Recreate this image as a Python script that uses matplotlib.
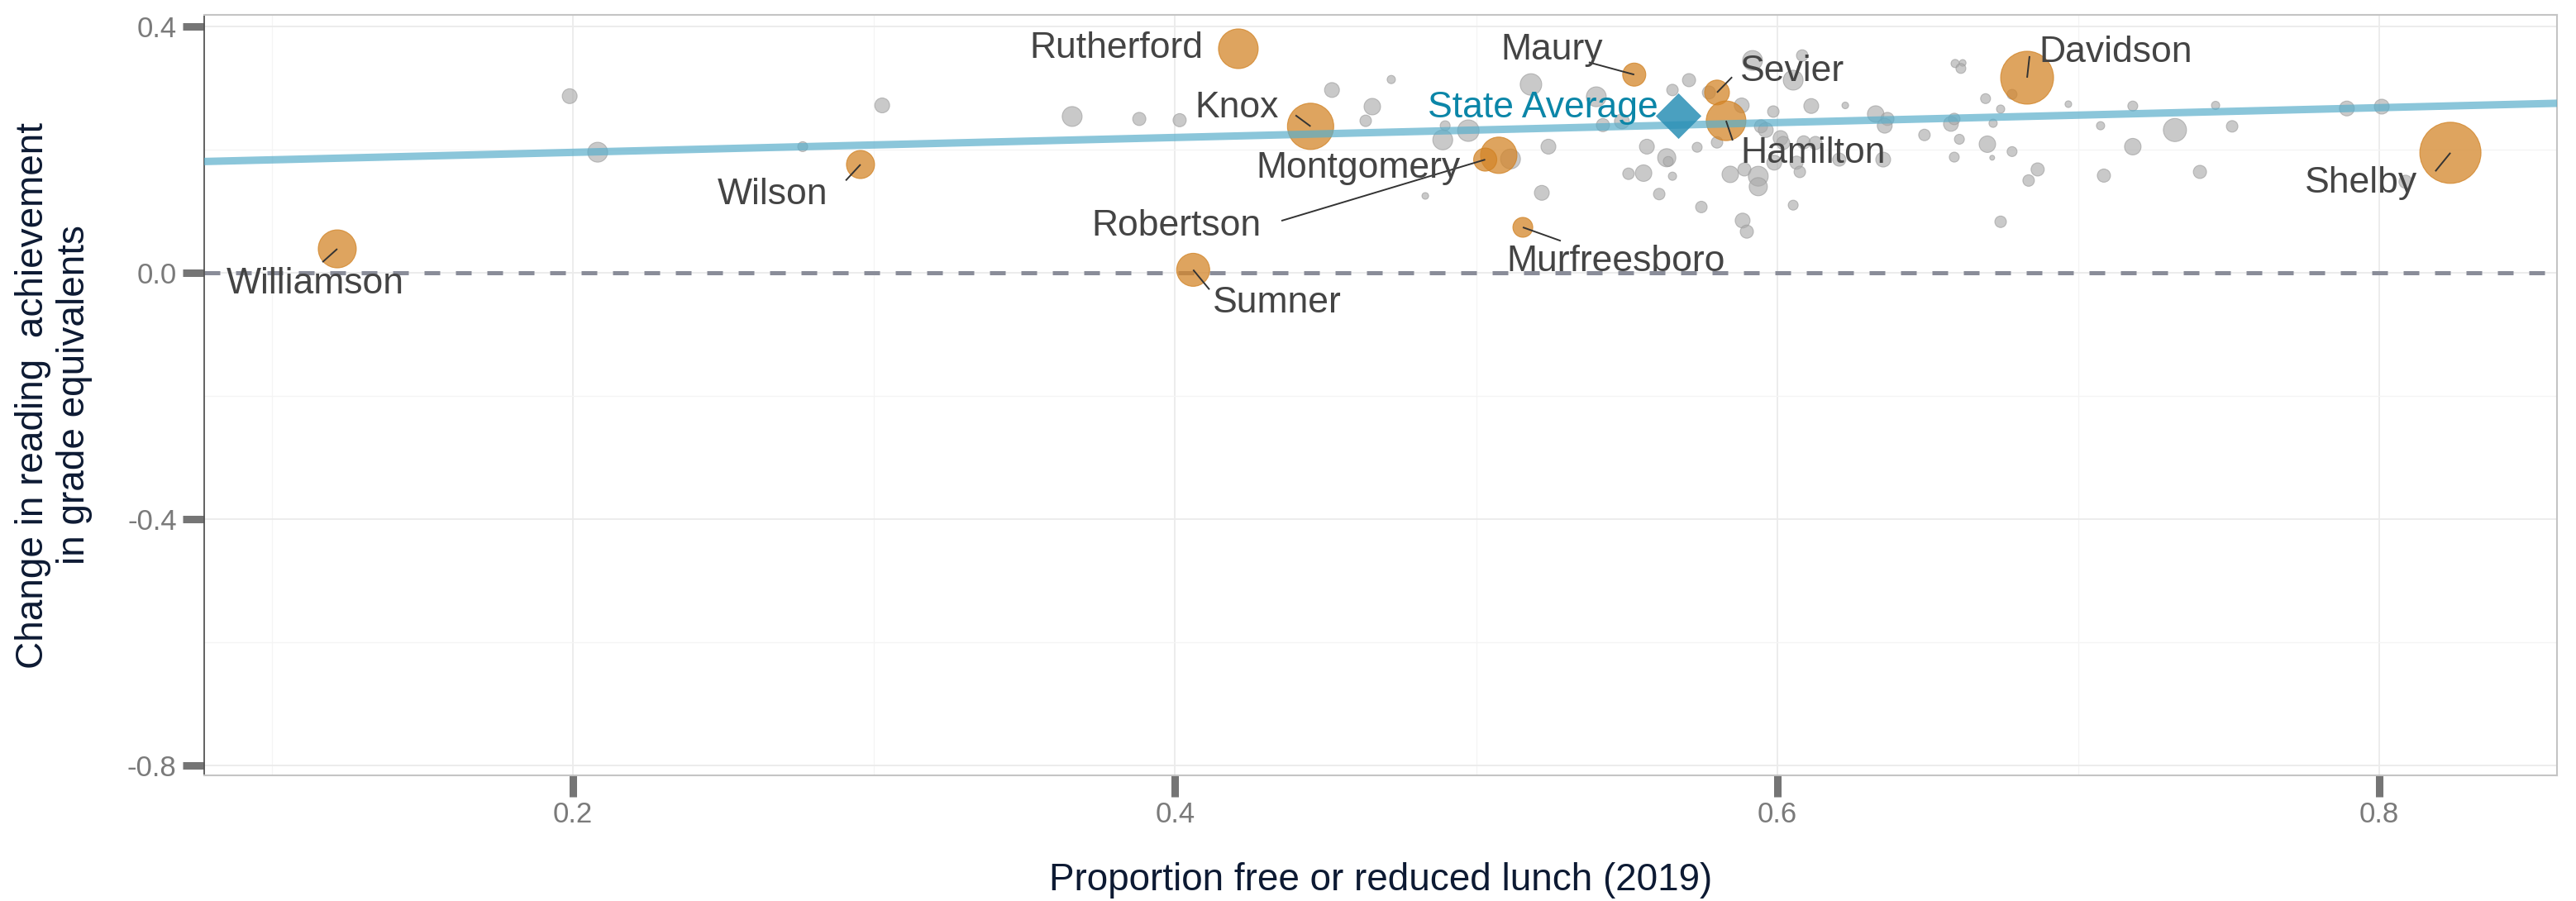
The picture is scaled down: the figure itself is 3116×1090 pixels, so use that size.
import matplotlib
matplotlib.use("Agg")
import matplotlib.pyplot as plt
import numpy as np

plt.rcParams['font.family'] = ['Liberation Sans', 'DejaVu Sans']

# ---------------- data ----------------
# highlighted districts
hl_names = ["Williamson", "Wilson", "Rutherford", "Knox", "Montgomery", "Robertson",
            "Sumner", "Maury", "Murfreesboro", "Sevier", "Hamilton", "Davidson", "Shelby"]
hl_frl = [0.1217, 0.2955, 0.421, 0.445, 0.5075, 0.503,
          0.406, 0.5525, 0.5155, 0.580, 0.583, 0.683, 0.8236]
hl_change = [0.039, 0.176, 0.364, 0.238, 0.191, 0.184,
             0.005, 0.322, 0.074, 0.293, 0.247, 0.317, 0.195]
hl_students = [42.5, 23.2, 46.3, 63.0, 38.9, 15.7,
               32.1, 15.7, 11.6, 18.1, 46.3, 82.3, 110.0]   # thousands

# other districts
oth_frl = [0.1989, 0.2082, 0.2763, 0.3027, 0.3658, 0.3881, 0.4015, 0.4521, 0.4718, 0.4655,
           0.4633, 0.4897, 0.4974, 0.4889, 0.4831, 0.5182, 0.5240, 0.5399, 0.5421, 0.5484,
           0.5218, 0.5567, 0.5633, 0.5638, 0.5506, 0.5556, 0.5652, 0.5608, 0.5707, 0.5652,
           0.5734, 0.5748, 0.5885, 0.5899, 0.5773, 0.5882, 0.5800, 0.5844, 0.5891, 0.5937,
           0.5937, 0.5946, 0.5987, 0.5918, 0.6053, 0.6083, 0.6113, 0.6226, 0.6327, 0.6366,
           0.6357, 0.5962, 0.6011, 0.6020, 0.6088, 0.6127, 0.5990, 0.6064, 0.6206, 0.6352,
           0.6075, 0.6053, 0.6489, 0.6577, 0.6588, 0.6605, 0.6588, 0.6591, 0.6616, 0.6610,
           0.6692, 0.6742, 0.6717, 0.6698, 0.6780, 0.6714, 0.6865, 0.6835, 0.6742, 0.6780,
           0.6967, 0.7181, 0.7074, 0.7321, 0.7181, 0.7085, 0.7404, 0.7456, 0.7511, 0.7892,
           0.8008, 0.8087, 0.5114]
oth_change = [0.287, 0.196, 0.205, 0.272, 0.254, 0.250, 0.248, 0.297, 0.314, 0.270,
              0.247, 0.239, 0.231, 0.216, 0.125, 0.306, 0.205, 0.286, 0.240, 0.246,
              0.130, 0.205, 0.187, 0.181, 0.161, 0.162, 0.157, 0.128, 0.313, 0.297,
              0.204, 0.107, 0.085, 0.067, 0.293, 0.272, 0.212, 0.160, 0.168, 0.157,
              0.140, 0.238, 0.262, 0.345, 0.313, 0.353, 0.271, 0.272, 0.258, 0.250,
              0.239, 0.232, 0.219, 0.211, 0.212, 0.211, 0.179, 0.179, 0.184, 0.184,
              0.164, 0.110, 0.224, 0.242, 0.250, 0.217, 0.188, 0.340, 0.341, 0.332,
              0.283, 0.266, 0.243, 0.209, 0.197, 0.187, 0.168, 0.150, 0.083, 0.290,
              0.274, 0.271, 0.239, 0.232, 0.205, 0.158, 0.164, 0.272, 0.238, 0.267,
              0.270, 0.148, 0.185]
oth_students = [6.5, 11.6, 2.9, 6.5, 11.6, 5.1, 5.1, 6.5, 2.0, 8.0,
                3.9, 2.9, 13.6, 11.6, 1.3, 13.6, 6.5, 11.6, 5.1, 6.5,
                6.5, 6.5, 9.7, 2.9, 3.9, 8.0, 2.0, 3.9, 5.1, 3.9,
                2.9, 3.9, 6.5, 5.1, 5.1, 6.5, 3.9, 8.0, 5.1, 11.6,
                9.7, 5.1, 3.9, 11.6, 11.6, 3.9, 6.5, 1.3, 8.0, 5.1,
                6.5, 6.5, 6.5, 5.1, 5.1, 5.1, 6.5, 5.1, 5.1, 6.5,
                3.9, 2.9, 3.9, 6.5, 3.9, 2.9, 2.9, 2.0, 1.3, 2.9,
                2.9, 2.0, 2.0, 8.0, 2.9, 0.7, 5.1, 3.9, 3.9, 2.9,
                1.3, 2.9, 2.0, 15.7, 8.0, 5.1, 5.1, 2.0, 3.9, 6.5,
                6.5, 5.1, 11.6]

state_frl = 0.567
state_change = 0.255

trend_intercept = 0.1715
trend_slope = 0.121

x_ticks = [0.2, 0.4, 0.6, 0.8]
y_ticks = [0.4, 0.0, -0.4, -0.8]
x_label = "Proportion free or reduced lunch (2019)"
y_label = "Change in reading  achievement\nin grade equivalents"

# label layout (text anchor x, baseline y, segment start or None)
label_layout = {
    "Williamson":   (0.1143, -0.034, (0.1168, 0.0175)),
    "Wilson":       (0.2662, 0.111, (0.2906, 0.150)),
    "Rutherford":   (0.3804, 0.349, None),
    "Knox":         (0.4205, 0.252, (0.4400, 0.256)),
    "Montgomery":   (0.4608, 0.154, None),
    "Robertson":    (0.4004, 0.060, (0.4353, 0.0846)),
    "Sumner":       (0.4340, -0.064, (0.4114, -0.027)),
    "Maury":        (0.5250, 0.346, (0.5374, 0.342)),
    "Murfreesboro": (0.5465, 0.003, (0.5281, 0.052)),
    "Sevier":       (0.6050, 0.311, (0.5850, 0.318)),
    "Hamilton":     (0.6120, 0.179, (0.5852, 0.215)),
    "Davidson":     (0.7124, 0.342, (0.6838, 0.352)),
    "Shelby":       (0.7940, 0.130, (0.8186, 0.165)),
}

# ---------------- figure ----------------
W, H = 3116, 1090
fig = plt.figure(figsize=(W / 100, H / 100), dpi=100)
ax = fig.add_axes([247 / W, 1 - 938 / H, (3093 - 247) / W, (938 - 18) / H])

size_k = 25.8  # points^2 per thousand students


def sz(v):
    return [size_k * s for s in v]


# grid
ax.set_xticks(x_ticks)
ax.set_yticks(y_ticks)
ax.set_xticks([0.1, 0.3, 0.5, 0.7], minor=True)
ax.set_yticks([0.2, -0.2, -0.6], minor=True)
ax.grid(which='major', color='#ebebeb', lw=1.3, zorder=0)
ax.grid(which='minor', color='#f4f4f4', lw=0.9, zorder=0)
ax.set_axisbelow(True)

ax.axhline(0, color='#8a8d99', lw=3.6, ls=(0, (3.8, 3.8)), zorder=1)

ax.scatter(oth_frl, oth_change, s=sz(oth_students), color='#a9a9a9', alpha=0.62,
           edgecolors='#9a9a9a', linewidths=0.8, zorder=2)
ax.scatter(hl_frl, hl_change, s=sz(hl_students), color='#d4862a', alpha=0.75,
           edgecolors='#d08020', linewidths=0.8, zorder=3)

xmin, xmax = 0.0775, 0.859
ax.axline((0.0, trend_intercept), slope=trend_slope, color='#5aaecb', lw=6.5,
          alpha=0.7, zorder=4, solid_capstyle='butt')

ax.scatter([state_frl], [state_change], marker='D', s=790, color='#2a8fb5',
           alpha=0.85, linewidths=0, zorder=5)
ax.text(state_frl - 0.0065, state_change - 0.003, "State Average", color='#0b86a8',
        fontsize=32, ha='right', va='baseline', zorder=7)

for name, x, y in zip(hl_names, hl_frl, hl_change):
    tx, ty, seg = label_layout[name]
    if seg is not None:
        ax.plot([seg[0], x], [seg[1], y], color='#333333', lw=1.4, zorder=6,
                solid_capstyle='butt')
    ax.text(tx, ty, name, color='#444444', fontsize=32, ha='center', va='baseline',
            zorder=7)

ax.set_xlim(xmin, xmax)
ax.set_ylim(-0.816, 0.419)

ax.set_xticklabels([f"{v:.1f}" for v in x_ticks])
ax.set_yticklabels([f"{v:.1f}" for v in y_ticks])
ax.tick_params(which='major', length=19, width=6.5, color='#757575',
               labelsize=25, labelcolor='#7a7a7a')
ax.tick_params(axis='y', pad=5)
ax.tick_params(axis='x', pad=3)
ax.tick_params(which='minor', length=0)

for s in ['top', 'right', 'bottom']:
    ax.spines[s].set_color('#c4c4c4')
    ax.spines[s].set_linewidth(1.5)
ax.spines['left'].set_color('#555555')
ax.spines['left'].set_linewidth(1.3)

fig.text(1670 / W, 1 - 1077 / H, x_label, fontsize=33, color='#0d1a33',
         ha='center', va='baseline')
fig.text(65 / W, 1 - 478 / H, y_label, fontsize=33, color='#0d1a33',
         ha='center', va='center', rotation=90, multialignment='center')

fig.savefig("out.png", dpi=100)
